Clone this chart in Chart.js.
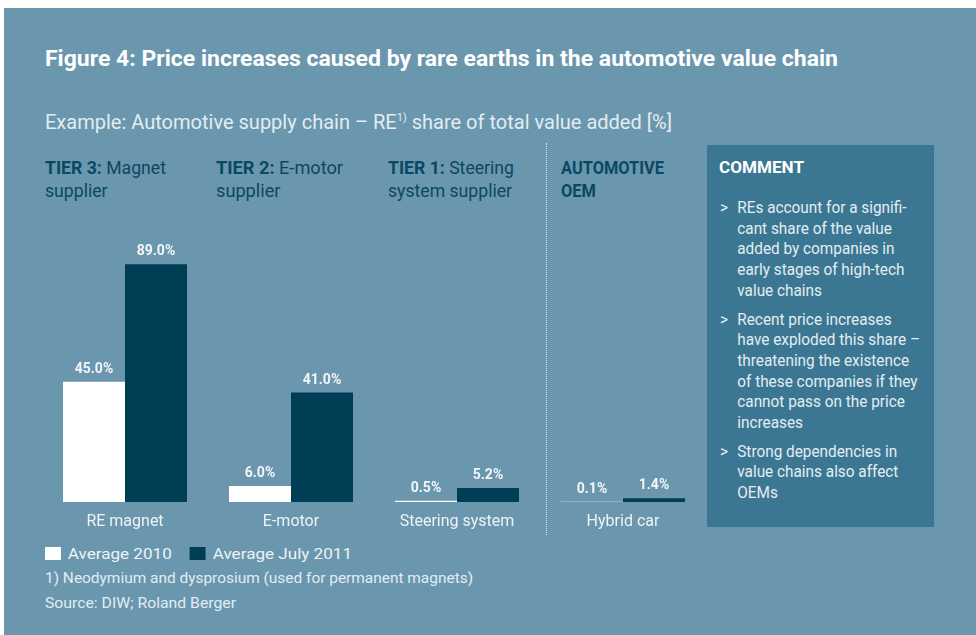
<!DOCTYPE html>
<html>
<head>
<meta charset="utf-8">
<script src="https://cdn.jsdelivr.net/npm/chart.js@4"></script>
<style>
  body { margin:0; background:#fff; width:976px; height:635px; overflow:hidden; position:relative;
         font-family:Roboto,"Liberation Sans",sans-serif; }
  #panel { position:absolute; left:4px; top:8px; width:972px; height:627px; background:#6a97ae; }
  #chart { position:absolute; left:0; top:0; }
  .txt { position:absolute; display:inline-block; white-space:nowrap; transform-origin:0 0; }
  #title { left:45px; top:47.5px; font-size:22px; line-height:22px; font-weight:bold; color:#fff; }
  #subtitle { left:45px; top:112px; font-size:20px; line-height:20px; color:#e2ecf1; }
  #subtitle sup { font-size:11px; vertical-align:8px; line-height:0; }
  .tier { top:156px; font-size:18px; line-height:23px; color:#0b4862; }
  .tier b { font-weight:bold; }
  #divider { position:absolute; left:546px; top:143px; height:392px; border-left:1px dotted #d4e3ea; }
  #comment { position:absolute; left:707px; top:145px; width:227px; height:382px; background:#3b7792; }
  #comment h3 { left:12px; top:14px; margin:0; font-size:17px; line-height:17px; font-weight:bold; color:#fff; }
  #comment ul { left:13px; top:53px; margin:0; padding:0; list-style:none;
                font-size:16px; line-height:20.7px; color:#e4edf1; }
  #comment li { position:relative; padding-left:18px; margin-bottom:8px; }
  #comment li::before { content:">"; position:absolute; left:0; top:0; }
  #legend { left:45px; top:547px; font-size:15px; line-height:15px; color:#eef3f6; }
  .sw { display:inline-block; width:14px; height:13px; vertical-align:-1px; margin-right:6px; }
  .gap { display:inline-block; width:16px; }
  #note { left:45px; top:571px; font-size:15px; line-height:15px; color:#e2ecf1; }
  #source { left:45px; top:596px; font-size:15px; line-height:15px; color:#e2ecf1; }
</style>
</head>
<body>
<div id="panel"></div>
<div class="txt" id="title" data-w="793">Figure 4: Price increases caused by rare earths in the automotive value chain</div>
<div class="txt" id="subtitle" data-w="627">Example: Automotive supply chain – RE<sup>1)</sup> share of total value added [%]</div>
<div class="txt tier" style="left:45px" data-w="121"><b>TIER 3:</b> Magnet<br>supplier</div>
<div class="txt tier" style="left:216px" data-w="127"><b>TIER 2:</b> E-motor<br>supplier</div>
<div class="txt tier" style="left:388px" data-w="126"><b>TIER 1:</b> Steering<br>system supplier</div>
<div class="txt tier" style="left:561px" data-w="103"><b>AUTOMOTIVE<br>OEM</b></div>
<div id="divider"></div>
<div id="comment">
  <h3 class="txt" data-w="85">COMMENT</h3>
  <ul class="txt" data-w="200">
    <li>REs account for a signifi-<br>cant share of the value<br>added by companies in<br>early stages of high-tech<br>value chains</li>
    <li>Recent price increases<br>have exploded this share –<br>threatening the existence<br>of these companies if they<br>cannot pass on the price<br>increases</li>
    <li>Strong dependencies in<br>value chains also affect<br>OEMs</li>
  </ul>
</div>
<div class="txt" id="legend" data-w="307"></div>
<div class="txt" id="note" data-w="428">1) Neodymium and dysprosium (used for permanent magnets)</div>
<div class="txt" id="source" data-w="191">Source: DIW; Roland Berger</div>
<canvas id="chart" width="976" height="635"></canvas>
<script>
// RE share of total value added, per stage of the chain [%]
const categories = ['RE magnet', 'E-motor', 'Steering system', 'Hybrid car'];
const seriesNames = ['Average 2010', 'Average July 2011'];
const avg2010 = [45.0, 6.0, 0.5, 0.1];
const avgJuly2011 = [89.0, 41.0, 5.2, 1.4];
const seriesColors = ['#ffffff', '#003e56'];

const FONT = 'Roboto,"Liberation Sans",sans-serif';

// percent labels above each bar + category names under each pair
const barLabels = {
  id: 'barLabels',
  afterDatasetsDraw(chart) {
    const ctx = chart.ctx;
    ctx.save();
    ctx.textAlign = 'center';
    ctx.fillStyle = '#f3f6f8';
    ctx.font = 'bold 14px ' + FONT;
    ctx.textBaseline = 'alphabetic';
    chart.data.datasets.forEach((ds, di) => {
      chart.getDatasetMeta(di).data.forEach((bar, i) => {
        ctx.fillText(ds.data[i].toFixed(1) + '%', bar.x, bar.y - 9);
      });
    });
    ctx.font = '16px ' + FONT;
    ctx.fillStyle = '#eef3f6';
    const xs = chart.scales.x;
    categories.forEach((c, i) => {
      ctx.fillText(c, xs.getPixelForValue(i), chart.chartArea.bottom + 24);
    });
    ctx.restore();
  }
};

new Chart(document.getElementById('chart'), {
  type: 'bar',
  data: {
    labels: categories,
    datasets: [
      { label: seriesNames[0], data: avg2010, backgroundColor: seriesColors[0] },
      { label: seriesNames[1], data: avgJuly2011, backgroundColor: seriesColors[1] }
    ]
  },
  options: {
    responsive: false,
    animation: false,
    layout: { padding: { left: 42, right: 270, top: 235, bottom: 133 } },
    datasets: { bar: { barPercentage: 1, categoryPercentage: 0.747 } },
    plugins: { legend: { display: false }, tooltip: { enabled: false } },
    scales: {
      x: { display: false },
      y: { display: false, min: 0, max: 100 }
    }
  },
  plugins: [barLabels]
});

// legend row built from the series
document.getElementById('legend').innerHTML = seriesNames.map((n, i) =>
  `<span class="sw" style="background:${seriesColors[i]}"></span>${n}`).join('<span class="gap"></span>');

// squeeze text blocks horizontally to the condensed widths
function fitText() {
  document.querySelectorAll('[data-w]').forEach(el => {
    el.style.transform = '';
    const w = el.getBoundingClientRect().width;
    if (w) el.style.transform = `scaleX(${(+el.dataset.w / w).toFixed(4)})`;
  });
}
fitText();
document.fonts.ready.then(fitText);
</script>
</body>
</html>
